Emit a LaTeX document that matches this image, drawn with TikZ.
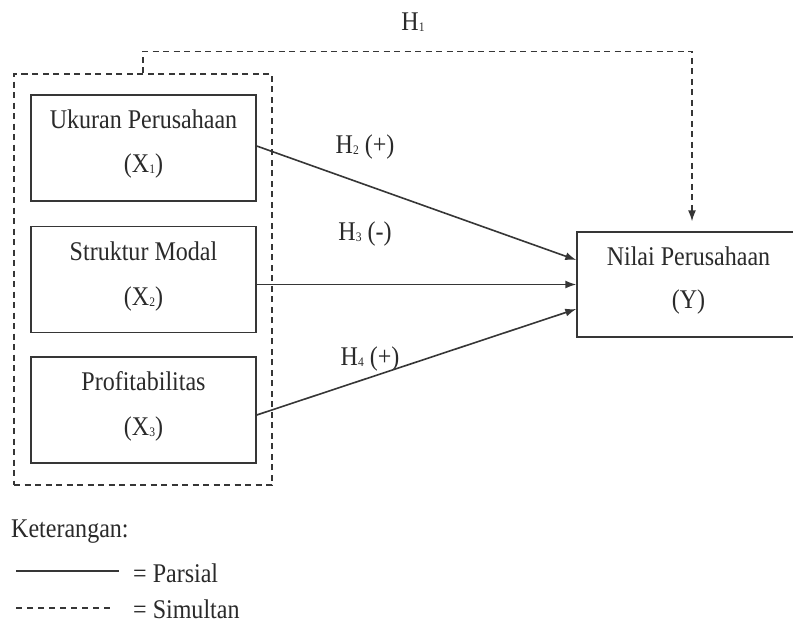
\documentclass[tikz,border=0pt]{standalone}
\usepackage{fontspec}
\setmainfont{Liberation Serif}[FakeStretch=0.89]
\usetikzlibrary{arrows.meta}
\definecolor{ink}{HTML}{363636}
\definecolor{txt}{HTML}{2A2A2A}
\newcommand{\sbs}[1]{\raisebox{-1.5pt}{\fontsize{13}{13}\selectfont #1}}
\tikzset{
  box/.style={draw=ink, line width=1.4pt, minimum width=225pt, minimum height=106pt, inner sep=0pt},
  grpbox/.style={draw=ink, line width=1.4pt, dash pattern=on 6pt off 4.5pt, minimum width=258pt, minimum height=411pt, inner sep=0pt},
  lbl/.style={anchor=base, text=txt, font=\fontsize{27}{30}\selectfont, inner sep=0pt},
  arr/.style={draw=ink, line width=1.6pt, -{Latex[length=11pt,width=8pt]}},
  dline/.style={draw=ink, line width=1.4pt, dash pattern=on 6pt off 4.5pt},
}
\begin{document}
\begin{tikzpicture}[x=1pt,y=-1pt]
\clip (0,0) rectangle (793,625);
\fill[white] (0,0) rectangle (793,625);

% group (dashed) and boxes
\node[grpbox] (grp) at (143,279.5) {};
\node[box] (x1) at (143.5,148) {};
\node[box] (x2) at (143.5,279.5) {};
\node[box] (x3) at (143.5,410) {};
\node[box, minimum width=223pt, minimum height=105pt] (y) at (688.5,284.5) {};

% box texts
\node[lbl] (x1a) at (143.5,128) {Ukuran Perusahaan};
\node[lbl] (x1b) at (143.5,172) {(X\sbs{1})};
\node[lbl] (x2a) at (143.5,260) {Struktur Modal};
\node[lbl] (x2b) at (143.5,305) {(X\sbs{2})};
\node[lbl] (x3a) at (143.5,390) {Profitabilitas};
\node[lbl] (x3b) at (143.5,435) {(X\sbs{3})};
\node[lbl] (ya) at (688.5,265) {Nilai Perusahaan};
\node[lbl] (yb) at (688.5,308) {(Y)};

% hypothesis labels
\node[lbl] (h1) at (413,30) {H\sbs{1}};
\node[lbl] (h2) at (365,153) {H\sbs{2} (+)};
\node[lbl] (h3) at (365,240) {H\sbs{3} (-)};
\node[lbl] (h4) at (370,365) {H\sbs{4} (+)};

% partial arrows
\draw[arr] ([yshift=2pt]x1.east) -- ([yshift=24.5pt]y.west);
\draw[arr] ([yshift=-5pt]x2.east) -- (y.west);
\draw[arr] ([yshift=-5pt]x3.east) -- ([yshift=-24.5pt]y.west);

% simultaneous arrow
\draw[dline, -{Latex[length=11pt,width=8pt]}] (grp.north) -- ++(0,-22) -| ([xshift=3.5pt,yshift=10pt]y.north);

% legend
\node[lbl, anchor=base west] (ket) at (11,537) {Keterangan:};
\coordinate (ps) at (16,571);
\coordinate (pe) at (119,571);
\coordinate (ss) at (16,608);
\coordinate (se) at (112,608);
\draw[draw=ink, line width=1.5pt] (ps) -- (pe);
\draw[draw=ink, line width=1.4pt, dash pattern=on 6pt off 5pt] (ss) -- (se);
\node[lbl, anchor=base west] (par) at (133,582) {= Parsial};
\node[lbl, anchor=base west] (sim) at (133,618) {= Simultan};
\end{tikzpicture}
\end{document}
